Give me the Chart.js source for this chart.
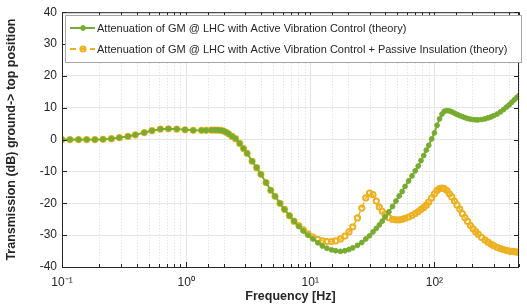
<!DOCTYPE html>
<html lang="en">
<head>
    <meta charset="UTF-8">
    <title>Transmission ground to top position</title>
    <script src="https://cdn.jsdelivr.net/npm/chart.js"></script>
    <style>
        body {
            margin: 0;
            background-color: #fff;
        }

        .container {
            width: 527px;
            height: 307px;
        }
    </style>
</head>
<body>
    <div class="container">
        <canvas id="tfChart" width="527" height="307"></canvas>
    </div>

    <script>
        const freqs = [0.1, 0.116, 0.136, 0.158, 0.184, 0.214, 0.25, 0.29, 0.34, 0.39, 0.46, 0.53, 0.62, 0.72, 0.84, 0.98,
            1.14, 1.33, 1.45, 1.6, 1.7, 1.8, 1.9, 2.0, 2.1, 2.2, 2.35, 2.5, 2.7, 2.9, 3.1, 3.4, 3.7, 4.0, 4.4, 4.8,
            5.2, 5.7, 6.2, 6.8, 7.4, 8.1, 8.8, 9.6, 10.5, 11.5, 12.5, 13.6, 14.8, 16, 17.5, 19, 20.5, 22, 24, 26,
            28, 30, 32, 34, 36, 38, 40, 43, 46, 49, 52, 55, 58, 62, 66, 70, 74, 78, 82, 86, 90, 95, 100, 105, 110,
            115, 120, 126, 132, 138, 145, 152, 160, 168, 176, 185, 195, 205, 215, 225, 240, 255, 270, 285, 300,
            320, 340, 360, 380, 400, 420, 440, 460, 480];

        // Active Vibration Control (theory)
        const avc = [0, 0, 0, 0, 0, 0.1, 0.3, 0.6, 1.0, 1.5, 2.2, 2.8, 3.3, 3.4, 3.3, 3.1,
            2.9, 2.9, 2.9, 3.0, 3.0, 3.0, 2.9, 2.7, 2.3, 1.8, 1.0, 0.3, -1.2, -2.8, -4.3, -6.8, -8.8, -10.9, -13.5, -15.9,
            -17.8, -20, -21.9, -23.9, -25.6, -27.3, -28.7, -30.0, -31.2, -32.4, -33.4, -34.1, -34.6, -34.9, -35.1, -34.9, -34.5, -34.0, -33.2, -32.3,
            -31.2, -30.2, -29.0, -27.9, -26.8, -25.6, -24.3, -22.7, -21.0, -19.3, -17.7, -16.3, -14.7, -13.0, -11.4, -9.8, -8.3, -6.6, -5.0, -3.3, -1.8, 0.2, 2.1, 4.5, 6.5,
            8.0, 8.9, 9.1, 9.0, 8.7, 8.3, 7.9, 7.5, 7.2, 6.9, 6.6, 6.4, 6.3, 6.2, 6.2, 6.3, 6.5, 6.8, 7.1, 7.5,
            8.0, 8.7, 9.4, 10.2, 10.9, 11.7, 12.5, 13.2, 13.8];

        // Active Vibration Control + Passive Insulation (theory)
        const avcPassive = [0, 0, 0, 0, 0, 0.1, 0.3, 0.6, 1.0, 1.5, 2.2, 2.8, 3.3, 3.4, 3.3, 3.1,
            2.9, 2.9, 2.9, 3.0, 3.0, 3.0, 2.9, 2.7, 2.3, 1.8, 1.0, 0.3, -1.2, -2.8, -4.3, -6.8, -8.8, -10.9, -13.5, -15.9,
            -17.8, -20, -21.9, -23.9, -25.6, -27.0, -28.3, -29.6, -30.6, -31.3, -31.8, -32.0, -32.0, -31.8, -31.2, -30.3, -29.0, -27.4, -24.6, -21.5,
            -18.3, -16.8, -17.3, -19.3, -21.2, -22.5, -23.5, -24.5, -25.0, -25.2, -25.2, -25.0, -24.7, -24.3, -23.8, -23.2, -22.6, -21.9, -21.3, -20.6, -19.6, -18.3, -17.0, -16.0, -15.4,
            -15.2, -15.4, -16.0, -17.0, -18.0, -19.3, -20.5, -21.8, -23.2, -24.5, -25.7, -27.0, -28.0, -28.9, -29.7, -30.7, -31.5, -32.2, -32.8, -33.3,
            -33.8, -34.2, -34.5, -34.8, -35.0, -35.1, -35.2, -35.3, -35.3];

        const yTicks = [-40, -30, -20, -10, 0, 10, 20, 30, 40];

        const green = '#77ac30';
        const orange = '#edb120';
        const textColor = '#262626';
        const sup = { '-': '⁻', '0': '⁰', '1': '¹', '2': '²', '3': '³' };

        function isDecade(v) {
            const l = Math.log10(v);
            return Math.abs(l - Math.round(l)) < 1e-6;
        }

        // matlab style box, inward ticks, dotted minor grid
        const boxPlugin = {
            id: 'box',
            beforeDatasetsDraw(chart) {
                const { ctx, chartArea: a, scales } = chart;
                ctx.save();
                ctx.strokeStyle = '#dcdcdc';
                ctx.lineWidth = 1;
                ctx.setLineDash([1, 2]);
                scales.x.ticks.forEach(t => {
                    if (isDecade(t.value)) return;
                    const x = Math.round(scales.x.getPixelForValue(t.value)) + 0.5;
                    ctx.beginPath();
                    ctx.moveTo(x, a.top);
                    ctx.lineTo(x, a.bottom);
                    ctx.stroke();
                });
                ctx.restore();
            },
            afterDatasetsDraw(chart) {
                const { ctx, chartArea: a, scales } = chart;
                ctx.save();
                ctx.strokeStyle = '#262626';
                ctx.lineWidth = 1;
                ctx.strokeRect(a.left + 0.5, a.top + 0.5, a.right - a.left - 1, a.bottom - a.top);
                scales.x.ticks.forEach(t => {
                    const x = Math.round(scales.x.getPixelForValue(t.value)) + 0.5;
                    const len = isDecade(t.value) ? 5 : 3;
                    ctx.beginPath();
                    ctx.moveTo(x, a.bottom);
                    ctx.lineTo(x, a.bottom - len);
                    ctx.moveTo(x, a.top);
                    ctx.lineTo(x, a.top + len);
                    ctx.stroke();
                });
                scales.y.ticks.forEach(t => {
                    const y = Math.round(scales.y.getPixelForValue(t.value)) + 0.5;
                    ctx.beginPath();
                    ctx.moveTo(a.left, y);
                    ctx.lineTo(a.left + 5, y);
                    ctx.moveTo(a.right, y);
                    ctx.lineTo(a.right - 5, y);
                    ctx.stroke();
                });
                ctx.restore();
            }
        };

        // legend drawn inside the plot area, top left
        const insideLegend = {
            id: 'insideLegend',
            afterDraw(chart) {
                const { ctx } = chart;
                const left = 65, top = 15, width = 456, height = 47;
                ctx.save();
                ctx.fillStyle = '#fff';
                ctx.fillRect(left, top, width, height);
                ctx.strokeStyle = '#a6a6a6';
                ctx.lineWidth = 1;
                ctx.strokeRect(left + 0.5, top + 0.5, width, height);
                ctx.font = '11px "Liberation Sans", Arial, sans-serif';
                ctx.textBaseline = 'middle';
                chart.data.datasets.forEach((ds, i) => {
                    const y = top + 13 + i * 21;
                    ctx.strokeStyle = ds.borderColor;
                    ctx.lineWidth = 2;
                    ctx.setLineDash(ds.borderDash || []);
                    ctx.beginPath();
                    ctx.moveTo(left + 5, y);
                    ctx.lineTo(left + 30, y);
                    ctx.stroke();
                    ctx.setLineDash([]);
                    ctx.beginPath();
                    ctx.arc(left + 18, y, ds.pointRadius, 0, Math.PI * 2);
                    ctx.fillStyle = ds.pointBackgroundColor;
                    ctx.fill();
                    ctx.lineWidth = ds.pointBorderWidth;
                    ctx.strokeStyle = ds.pointBorderColor;
                    ctx.stroke();
                    ctx.fillStyle = textColor;
                    ctx.fillText(ds.label, left + 32, y + 0.5);
                });
                ctx.restore();
            }
        };

        const ctx = document.getElementById('tfChart').getContext('2d');

        new Chart(ctx, {
            type: 'line',
            data: {
                datasets: [{
                    label: 'Attenuation of GM @ LHC with Active Vibration Control (theory)',
                    data: freqs.map((f, i) => ({ x: f, y: avc[i] })),
                    borderColor: green,
                    borderWidth: 1.8,
                    pointRadius: 2.4,
                    pointBackgroundColor: green,
                    pointBorderColor: green,
                    pointBorderWidth: 1,
                    tension: 0
                }, {
                    label: 'Attenuation of GM @ LHC with Active Vibration Control + Passive Insulation (theory)',
                    data: freqs.map((f, i) => ({ x: f, y: avcPassive[i] })),
                    borderColor: orange,
                    borderWidth: 1.5,
                    borderDash: [6, 4],
                    pointRadius: 2.6,
                    pointBackgroundColor: 'rgba(255,255,255,0)',
                    pointBorderColor: orange,
                    pointBorderWidth: 2,
                    tension: 0
                }]
            },
            options: {
                responsive: false,
                animation: false,
                layout: {
                    padding: { top: 10, right: 0, left: 0, bottom: 0 }
                },
                plugins: {
                    legend: { display: false },
                    tooltip: { enabled: false }
                },
                scales: {
                    x: {
                        type: 'logarithmic',
                        min: 0.1,
                        max: 480,
                        afterFit(scale) { scale.height = 40; },
                        grid: {
                            drawTicks: false,
                            color: c => (c.tick && isDecade(c.tick.value)) ? '#e2e2e2' : 'rgba(0,0,0,0)'
                        },
                        border: { display: false },
                        ticks: {
                            autoSkip: false,
                            maxRotation: 0,
                            padding: 8,
                            color: textColor,
                            font: { family: '"Liberation Sans", Arial, sans-serif', size: 12 },
                            callback: v => {
                                if (!isDecade(v)) return '';
                                const e = String(Math.round(Math.log10(v)));
                                return '10' + e.split('').map(ch => sup[ch]).join('');
                            }
                        },
                        title: {
                            display: true,
                            text: 'Frequency [Hz]',
                            color: textColor,
                            padding: { top: 0, bottom: 3 },
                            font: { family: '"Liberation Sans", Arial, sans-serif', size: 12.5, weight: 'bold' }
                        }
                    },
                    y: {
                        min: -40,
                        max: 40,
                        afterFit(scale) { scale.width = 62; },
                        afterBuildTicks(scale) { scale.ticks = yTicks.map(v => ({ value: v })); },
                        grid: {
                            drawTicks: false,
                            color: '#e6e6e6'
                        },
                        border: { display: false },
                        ticks: {
                            padding: 5,
                            color: textColor,
                            font: { family: '"Liberation Sans", Arial, sans-serif', size: 12 }
                        },
                        title: {
                            display: true,
                            text: 'Transmission (dB) ground-> top position',
                            color: textColor,
                            padding: { top: 4, bottom: 0 },
                            font: { family: '"Liberation Sans", Arial, sans-serif', size: 12.5, weight: 'bold' }
                        }
                    }
                }
            },
            plugins: [boxPlugin, insideLegend]
        });
    </script>
</body>
</html>
